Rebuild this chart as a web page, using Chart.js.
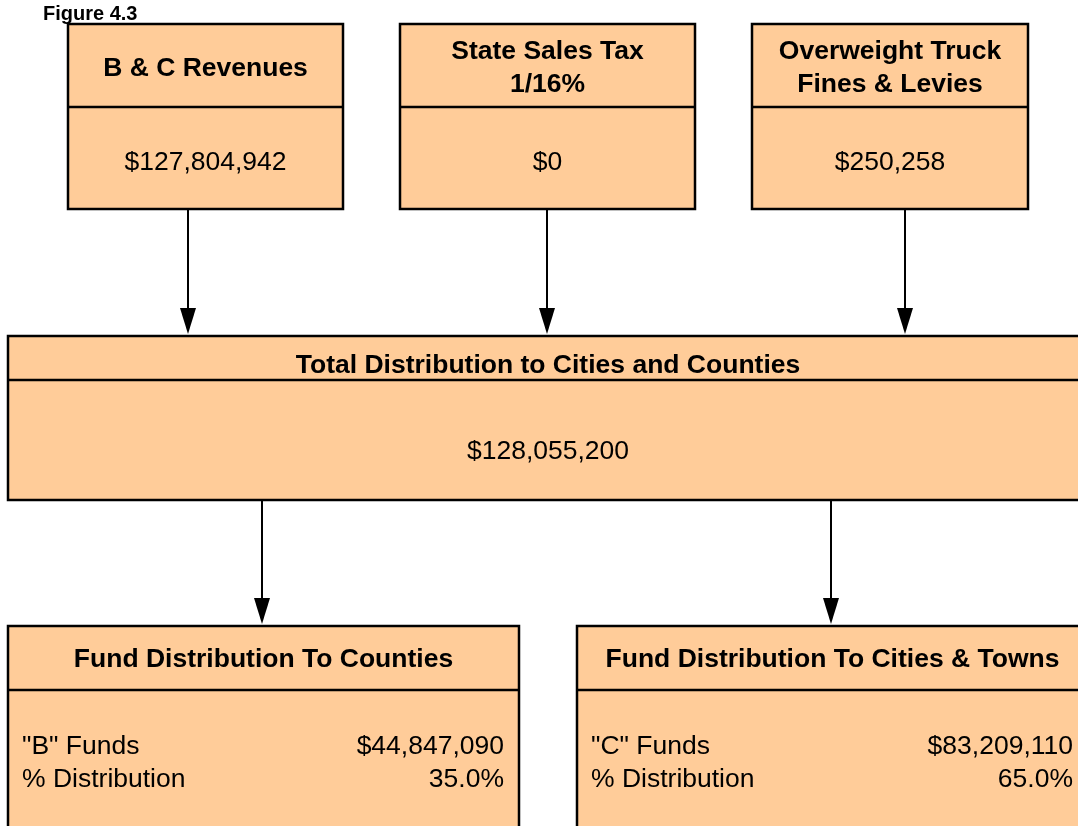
<!DOCTYPE html>
<html>
<head>
<meta charset="utf-8">
<script src="https://cdn.jsdelivr.net/npm/chart.js@4.4.1/dist/chart.umd.min.js"></script>
<style>
  html, body { margin: 0; padding: 0; background: #ffffff; }
  #wrap { width: 1078px; height: 826px; position: relative; }
</style>
</head>
<body>
<div id="wrap"><canvas id="flow" width="1078" height="826"></canvas></div>
<script>
// data
var figureTitle = 'Figure 4.3';
var sourceTitles = [['B & C Revenues'], ['State Sales Tax', '1/16%'], ['Overweight Truck', 'Fines & Levies']];
var sourceValues = [127804942, 0, 250258];
var totalTitle = 'Total Distribution to Cities and Counties';
var totalValue = 128055200;
var fundTitles = ['Fund Distribution To Counties', 'Fund Distribution To Cities & Towns'];
var fundRowLabels = [['"B" Funds', '% Distribution'], ['"C" Funds', '% Distribution']];
var fundAmounts = [44847090, 83209110];
var fundShares = [35.0, 65.0];

// layout (chart units = page pixels)
var sourceBoxes = [
  {x0: 68, x1: 343, y0: 24, y1: 209, split: 107, arrowX: 188},
  {x0: 400, x1: 695, y0: 24, y1: 209, split: 107, arrowX: 547},
  {x0: 752, x1: 1028, y0: 24, y1: 209, split: 107, arrowX: 905}
];
var totalBox = {x0: 8, x1: 1088, y0: 336, y1: 500, split: 380};
var fundBoxes = [
  {x0: 8, x1: 519, y0: 626, y1: 840, split: 690, arrowX: 262},
  {x0: 577, x1: 1088, y0: 626, y1: 840, split: 690, arrowX: 831}
];

var FILL = '#FFCC99';
var FONT = '"Liberation Sans", Arial, Helvetica, sans-serif';

function money(v) {
  return '$' + v.toLocaleString('en-US');
}

var flowPlugin = {
  id: 'flow',
  afterDatasetsDraw: function(chart) {
    var ctx = chart.ctx;
    var xs = chart.scales.x, ys = chart.scales.y;
    function px(v) { return xs.getPixelForValue(v); }
    function py(v) { return ys.getPixelForValue(v); }

    function box(b) {
      var l = px(b.x0), r = px(b.x1), t = py(b.y0), btm = py(b.y1);
      ctx.save();
      ctx.fillStyle = FILL;
      ctx.fillRect(l, t, r - l, btm - t);
      ctx.strokeStyle = '#000';
      ctx.lineWidth = 2.5;
      ctx.strokeRect(l, t, r - l, btm - t);
      ctx.beginPath();
      ctx.moveTo(l, py(b.split));
      ctx.lineTo(r, py(b.split));
      ctx.stroke();
      ctx.restore();
    }

    function text(str, x, y, bold, align) {
      ctx.save();
      ctx.fillStyle = '#000';
      ctx.font = (bold ? 'bold ' : '') + '26.5px ' + FONT;
      ctx.textAlign = align || 'center';
      ctx.textBaseline = 'middle';
      ctx.fillText(str, px(x), py(y + 2));
      ctx.restore();
    }

    function arrow(x, yFrom, yTo) {
      var cx = px(x), a = py(yFrom), b = py(yTo);
      ctx.save();
      ctx.strokeStyle = '#000';
      ctx.fillStyle = '#000';
      ctx.lineWidth = 2;
      ctx.beginPath();
      ctx.moveTo(cx, a);
      ctx.lineTo(cx, b - 24);
      ctx.stroke();
      ctx.beginPath();
      ctx.moveTo(cx - 8, b - 28);
      ctx.lineTo(cx + 8, b - 28);
      ctx.lineTo(cx, b - 2);
      ctx.closePath();
      ctx.fill();
      ctx.restore();
    }

    // figure label
    ctx.save();
    ctx.fillStyle = '#000';
    ctx.font = 'bold 20px ' + FONT;
    ctx.textAlign = 'left';
    ctx.textBaseline = 'middle';
    ctx.fillText(figureTitle, px(43), py(14));
    ctx.restore();

    // source boxes
    sourceBoxes.forEach(function(b, i) {
      box(b);
      var cx = (b.x0 + b.x1) / 2;
      var lines = sourceTitles[i];
      if (lines.length === 1) {
        text(lines[0], cx, 67, true);
      } else {
        text(lines[0], cx, 50, true);
        text(lines[1], cx, 83, true);
      }
      text(money(sourceValues[i]), cx, 161, false);
      arrow(b.arrowX, b.y1, totalBox.y0);
    });

    // total box
    box(totalBox);
    var tcx = (totalBox.x0 + totalBox.x1) / 2;
    text(totalTitle, tcx, 364, true);
    text(money(totalValue), tcx, 450, false);

    // fund boxes
    fundBoxes.forEach(function(b, i) {
      arrow(b.arrowX, totalBox.y1, b.y0);
      box(b);
      var cx = (b.x0 + b.x1) / 2;
      text(fundTitles[i], cx, 658, true);
      var right = Math.min(b.x1, 1088) - 15;
      text(fundRowLabels[i][0], b.x0 + 14, 745, false, 'left');
      text(money(fundAmounts[i]), right, 745, false, 'right');
      text(fundRowLabels[i][1], b.x0 + 14, 778, false, 'left');
      text(fundShares[i].toFixed(1) + '%', right, 778, false, 'right');
    });
  }
};

new Chart(document.getElementById('flow').getContext('2d'), {
  type: 'scatter',
  data: { datasets: [{ data: [], pointRadius: 0 }] },
  options: {
    responsive: false,
    animation: false,
    layout: { padding: 0 },
    plugins: { legend: { display: false }, tooltip: { enabled: false }, title: { display: false } },
    scales: {
      x: { type: 'linear', min: 0, max: 1078, display: false },
      y: { type: 'linear', min: 0, max: 826, reverse: true, display: false }
    }
  },
  plugins: [flowPlugin]
});
</script>
</body>
</html>
